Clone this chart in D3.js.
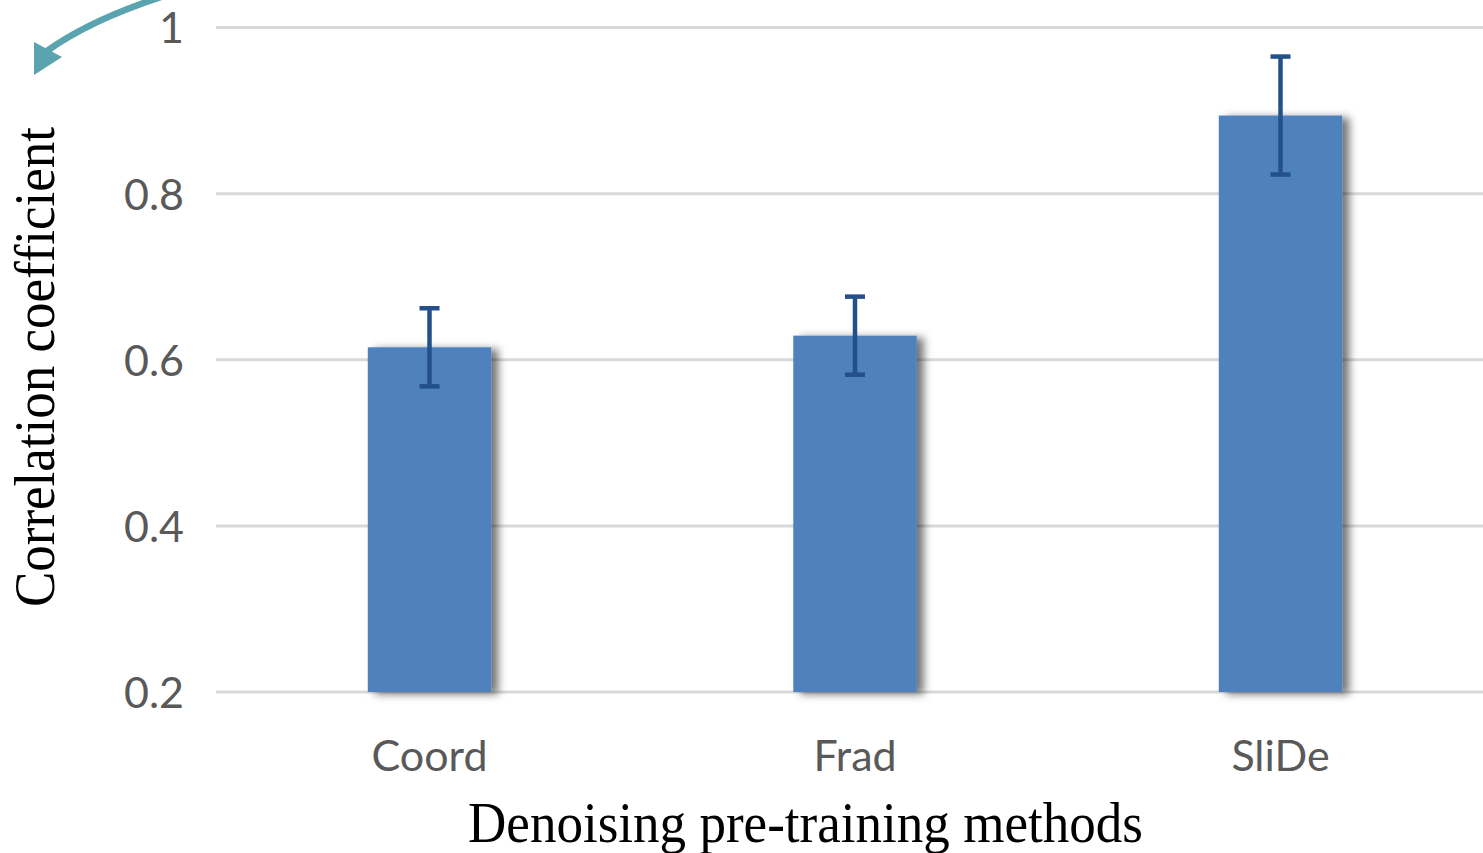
<!DOCTYPE html>
<html>
<head>
<meta charset="utf-8">
<script src="https://cdn.jsdelivr.net/npm/d3@7"></script>
<style>
  html, body { margin: 0; padding: 0; background: #fff; }
  svg { display: block; }
</style>
</head>
<body>
<script>
// Mean correlation per denoising pre-training method, with error half-widths
const methods = ["Coord", "Frad", "SliDe"];
const means = [0.615, 0.629, 0.894];
const errors = [0.047, 0.047, 0.071];
const yTicks = [0.2, 0.4, 0.6, 0.8, 1];
const yTickLabels = ["0.2", "0.4", "0.6", "0.8", "1"];

const W = 1483, H = 853;
const svg = d3.select("body").append("svg").attr("width", W).attr("height", H);

const defs = svg.append("defs");
const shadow = defs.append("filter").attr("id", "barShadow")
  .attr("x", "-20%").attr("y", "-10%").attr("width", "150%").attr("height", "130%");
shadow.append("feDropShadow")
  .attr("dx", 7).attr("dy", 2).attr("stdDeviation", 4)
  .attr("flood-color", "#000").attr("flood-opacity", 0.55);

const x = d3.scaleBand().domain(methods).range([216.75, 1493.25]).padding(0);
const y = d3.scaleLinear().domain([0.2, 1]).range([692, 27.5]);
const barW = x.bandwidth() * 0.29;

// tick labels
const yAxis = d3.axisLeft(y).tickValues(yTicks)
  .tickFormat((d, i) => yTickLabels[i]).tickSize(0).tickPadding(0);
const gy = svg.append("g").attr("transform", "translate(184,0)").call(yAxis);
gy.select(".domain").remove();
gy.selectAll("text")
  .attr("font-family", "Lato, 'Open Sans', sans-serif")
  .attr("font-size", 43).attr("fill", "#595959")
  .attr("dy", "0.36em");

// gridlines
svg.append("g").selectAll("line").data(yTicks).join("line")
  .attr("x1", 216).attr("x2", W)
  .attr("y1", d => y(d)).attr("y2", d => y(d))
  .attr("stroke", "#d9d9d9").attr("stroke-width", 3);

// bars
const data = methods.map((m, i) => ({ m, v: means[i], e: errors[i] }));
svg.append("g").attr("filter", "url(#barShadow)")
  .selectAll("rect").data(data).join("rect")
  .attr("x", d => x(d.m) + x.bandwidth() / 2 - barW / 2)
  .attr("y", d => y(d.v))
  .attr("width", barW)
  .attr("height", d => y(0.2) - y(d.v))
  .attr("fill", "#4f81bd");

// error bars
const eb = svg.append("g").attr("stroke", "#24508a").attr("stroke-width", 4.5);
const cx = d => x(d.m) + x.bandwidth() / 2;
eb.selectAll(".stem").data(data).join("line").attr("class", "stem")
  .attr("x1", cx).attr("x2", cx)
  .attr("y1", d => y(d.v + d.e)).attr("y2", d => y(d.v - d.e));
eb.selectAll(".capTop").data(data).join("line").attr("class", "capTop")
  .attr("x1", d => cx(d) - 10).attr("x2", d => cx(d) + 10)
  .attr("y1", d => y(d.v + d.e)).attr("y2", d => y(d.v + d.e));
eb.selectAll(".capBot").data(data).join("line").attr("class", "capBot")
  .attr("x1", d => cx(d) - 10).attr("x2", d => cx(d) + 10)
  .attr("y1", d => y(d.v - d.e)).attr("y2", d => y(d.v - d.e));

// category labels
const xAxis = d3.axisBottom(x).tickSize(0).tickPadding(0);
const gx = svg.append("g").attr("transform", "translate(0,771)").call(xAxis);
gx.select(".domain").remove();
gx.selectAll("text")
  .attr("font-family", "Lato, 'Open Sans', sans-serif")
  .attr("font-size", 43).attr("fill", "#595959")
  .attr("dy", 0).attr("y", 0);

// axis titles
svg.append("text")
  .attr("x", 805.5).attr("y", 842)
  .attr("text-anchor", "middle")
  .attr("font-family", "'Liberation Serif', 'Times New Roman', serif")
  .attr("font-size", 56)
  .attr("textLength", 675).attr("lengthAdjust", "spacingAndGlyphs")
  .text("Denoising pre-training methods");

svg.append("text")
  .attr("transform", "translate(54,367) rotate(-90)")
  .attr("text-anchor", "middle")
  .attr("font-family", "'Liberation Serif', 'Times New Roman', serif")
  .attr("font-size", 57)
  .attr("textLength", 480).attr("lengthAdjust", "spacingAndGlyphs")
  .text("Correlation coefficient");

// curved pointer arrow in the top-left corner
svg.append("path")
  .attr("d", "M164,-4 Q90,20 47,51")
  .attr("fill", "none").attr("stroke", "#5aa4af").attr("stroke-width", 6.5);
svg.append("path")
  .attr("d", "M34,75 L34,42 L62,57 Z")
  .attr("fill", "#5aa4af");
</script>
</body>
</html>
